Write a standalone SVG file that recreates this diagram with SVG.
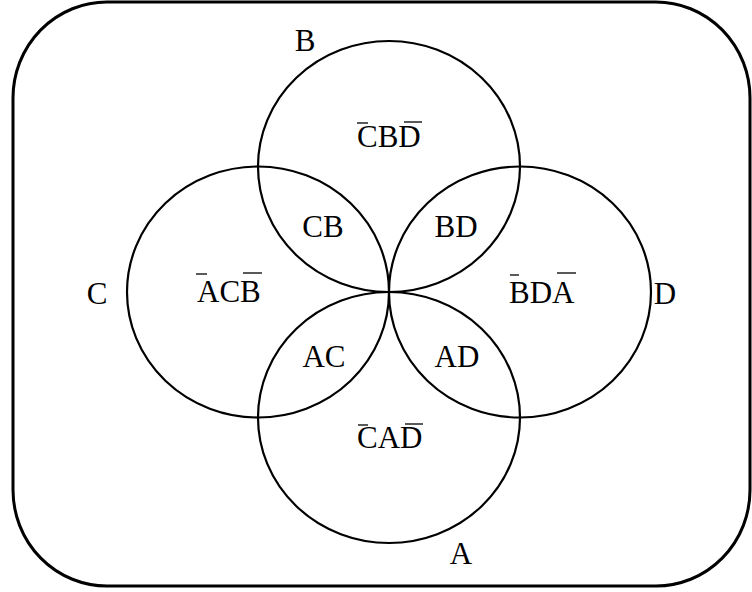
<svg xmlns="http://www.w3.org/2000/svg" width="752" height="592" viewBox="0 0 752 592">
<style>
.c{fill:none;stroke:#000;stroke-width:2.2}
.t{font-family:"Liberation Serif","Times New Roman",serif;font-size:31px;fill:#000;text-anchor:middle}
.s{text-anchor:start}
.bar{stroke:#000;stroke-width:1.3}
</style>
<rect x="0" y="0" width="752" height="592" fill="#fff"/>
<g id="frame"><rect x="13" y="2" width="737" height="584" rx="94" ry="96" fill="none" stroke="#000" stroke-width="3"/></g>
<g id="sets">
<g id="B"><ellipse class="c" cx="389" cy="166.5" rx="131" ry="125.5"/><text class="t" x="305" y="51">B</text></g>
<g id="C"><ellipse class="c" cx="258" cy="292" rx="131" ry="125.5"/><text class="t" x="97" y="304">C</text></g>
<g id="D"><ellipse class="c" cx="520" cy="292" rx="131" ry="125.5"/><text class="t" x="665" y="304">D</text></g>
<g id="A"><ellipse class="c" cx="389" cy="417.5" rx="131" ry="125.5"/><text class="t" x="461" y="564">A</text></g>
</g>
<g id="regions">
<g id="r-CBD"><text class="t s" x="357" y="147">CBD</text><line class="bar" x1="357" y1="123" x2="368" y2="123"/><line class="bar" x1="404" y1="122" x2="422" y2="122"/></g>
<g id="r-ACB"><text class="t s" x="197" y="302">ACB</text><line class="bar" x1="196" y1="274" x2="207" y2="274"/><line class="bar" x1="243" y1="273" x2="262" y2="273"/></g>
<g id="r-BDA"><text class="t s" x="509" y="303">BDA</text><line class="bar" x1="510" y1="275" x2="519" y2="275"/><line class="bar" x1="557" y1="273" x2="576" y2="273"/></g>
<g id="r-CAD"><text class="t s" x="357" y="448">CAD</text><line class="bar" x1="358" y1="425" x2="368" y2="425"/><line class="bar" x1="405" y1="424" x2="423" y2="424"/></g>
<g id="r-CB"><text class="t" x="323" y="237">CB</text></g>
<g id="r-BD"><text class="t" x="456" y="237">BD</text></g>
<g id="r-AC"><text class="t" x="324" y="367">AC</text></g>
<g id="r-AD"><text class="t" x="457" y="367">AD</text></g>
</g>
</svg>
